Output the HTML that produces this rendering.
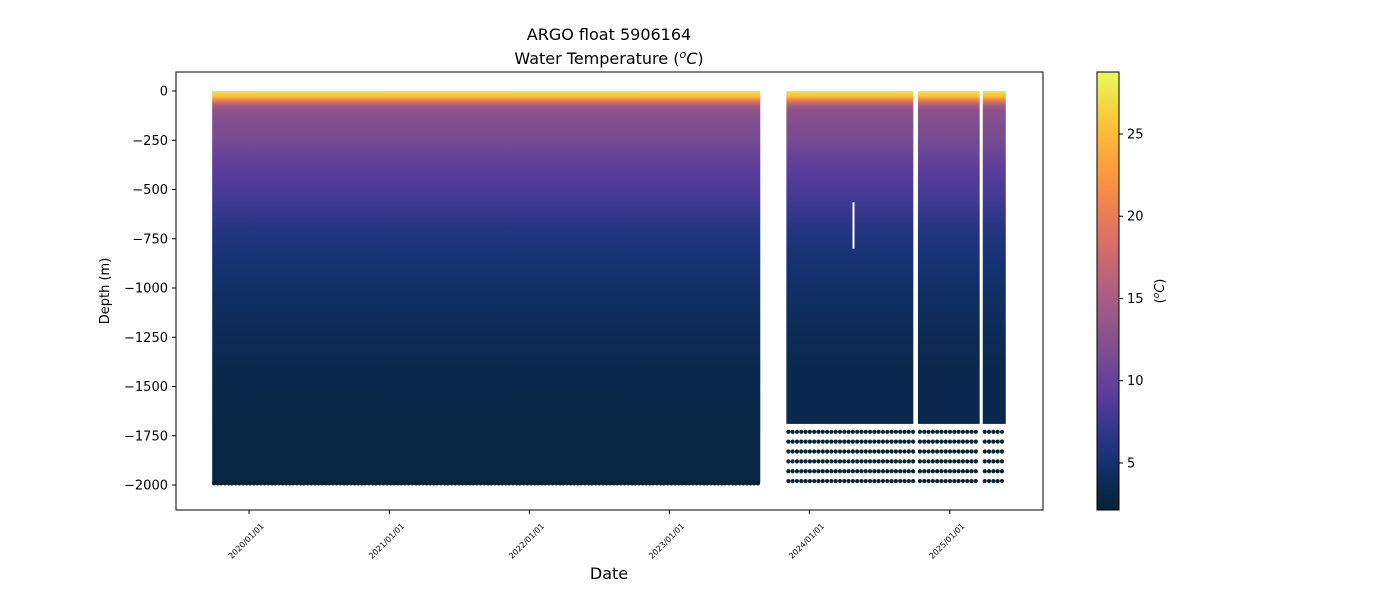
<!DOCTYPE html>
<html><head><meta charset="utf-8"><style>
body{margin:0;background:#fff;}
svg text{font-family:"DejaVu Sans","Liberation Sans",sans-serif;}
</style></head><body>
<svg id="chart" width="1400" height="600" xmlns="http://www.w3.org/2000/svg">
<defs id="defs"></defs>
<text x="609" y="40" font-size="16" text-anchor="middle">ARGO float 5906164</text>
<text x="609" y="64" font-size="16" text-anchor="middle">Water Temperature (<tspan font-style="italic" font-size="11" dy="-6">o</tspan><tspan font-style="italic" dy="6">C</tspan>)</text>
<g id="plot"></g>
<text transform="translate(109,291) rotate(-90)" font-size="13" text-anchor="middle">Depth (m)</text>
<text x="609" y="579" font-size="16" text-anchor="middle">Date</text>
<g id="cbar"></g>
<text transform="translate(1164,291) rotate(-90)" font-size="13" text-anchor="middle">(<tspan font-style="italic" font-size="9" dy="-5">o</tspan><tspan font-style="italic" dy="5">C</tspan>)</text>
</svg>
<script>
const NS="http://www.w3.org/2000/svg";
// data
const yTicks=[0,-250,-500,-750,-1000,-1250,-1500,-1750,-2000];
const xTickLabels=["2020/01/01","2021/01/01","2022/01/01","2023/01/01","2024/01/01","2025/01/01"];
const segStart=["2019-09-27","2023-11-02","2024-10-10","2025-03-28"];
const segEnd=["2023-08-26","2024-09-28","2025-03-20","2025-05-27"];
const segBottom=[-1985,-1690,-1690,-1690];
const profileDepth=[0,-25,-45,-70,-100,-250,-400,-550,-700,-900,-1100,-1400,-1700,-2000];
const profileTemp=[27.5,25.5,21,15,12.8,11.3,9.2,7.8,6.2,5.0,4.2,3.4,2.9,2.5];
const dotDepths=[-1730,-1780,-1830,-1880,-1930,-1980];
const cbTicks=[5,10,15,20,25];
const cMin=2.14,cMax=28.77;
// scales
const X0=176,X1=1043,Y0=72,Y1=510;
const t2020=Date.UTC(2020,0,1);
function xs(d){const t=(typeof d==="string")?Date.parse(d+"T00:00:00Z"):d;return 249+(t-t2020)/86400000*0.38356;}
function ys(v){return 91-v*0.197;}
const thermal=[[4,35,51],[23,51,122],[85,59,157],[129,79,143],[175,95,130],[222,112,100],[249,147,65],[251,192,55],[232,250,91]];
function col(t){let f=(t-cMin)/(cMax-cMin);f=Math.max(0,Math.min(1,f))*(thermal.length-1);const i=Math.min(thermal.length-2,Math.floor(f)),r=f-i;const a=thermal[i],b=thermal[i+1];return "rgb("+a.map((v,k)=>Math.round(v+(b[k]-v)*r)).join(",")+")";}
function el(tag,attrs,parent){const e=document.createElementNS(NS,tag);for(const k in attrs)e.setAttribute(k,attrs[k]);parent.appendChild(e);return e;}
const defs=document.getElementById("defs"),plot=document.getElementById("plot"),cbar=document.getElementById("cbar");
el("rect",{x:X0,y:Y0,width:X1-X0,height:Y1-Y0,fill:"#fff"},plot);
segStart.forEach((s,i)=>{
  const top=ys(0),bot=ys(segBottom[i]);
  const g=el("linearGradient",{id:"g"+i,x1:0,y1:0,x2:0,y2:1},defs);
  profileDepth.forEach((d,j)=>{if(d>=segBottom[i]){el("stop",{offset:((ys(d)-top)/(bot-top)).toFixed(4),"stop-color":col(profileTemp[j])},g);}});
  const r=el("rect",{x:xs(s),y:top,width:xs(segEnd[i])-xs(s),height:bot-top,fill:"url(#g"+i+")"},plot);
  
  
  const x0=xs(s),x1=xs(segEnd[i]);
  if(i===0){
    for(let x=x0+2;x<x1;x+=3.6){const c=el("circle",{cx:x,cy:bot+1,r:2.4,fill:"#042333"},plot);
      
      }
  } else {
    dotDepths.forEach(d=>{for(let x=x0+2;x<x1;x+=4.3){const c=el("circle",{cx:x,cy:ys(d),r:2.1,fill:"#042333"},plot);
      
      }});
  }
});
el("line",{x1:853.5,x2:853.5,y1:ys(-565),y2:ys(-800),stroke:"#fff","stroke-width":2},plot);
el("rect",{x:X0,y:Y0,width:X1-X0,height:Y1-Y0,fill:"none",stroke:"#000","stroke-width":1},plot);
yTicks.forEach(v=>{const y=ys(v);el("line",{x1:X0-4,x2:X0,y1:y,y2:y,stroke:"#000"},plot);
  const t=el("text",{x:X0-8,y:y+4.5,"font-size":13,"text-anchor":"end"},plot);t.textContent=v<0?"\u2212"+(-v):String(v);
  });
xTickLabels.forEach(l=>{const d=l.replace(/\//g,"-");const x=xs(d);el("line",{x1:x,x2:x,y1:Y1,y2:Y1+4,stroke:"#000"},plot);
  const t=el("text",{transform:"translate("+(x-1)+","+(Y1+33)+") rotate(-45)","font-size":8,"text-anchor":"middle"},plot);t.textContent=l;
  });
const cg=el("linearGradient",{id:"cbg",x1:0,y1:1,x2:0,y2:0},defs);
for(let k=0;k<=20;k++){el("stop",{offset:k/20,"stop-color":col(cMin+(cMax-cMin)*k/20)},cg);}
el("rect",{x:1097,y:Y0,width:22,height:Y1-Y0,fill:"url(#cbg)",stroke:"#000","stroke-width":1},cbar);
function cy(t){return Y1-(t-cMin)/(cMax-cMin)*(Y1-Y0);}
cbTicks.forEach(v=>{const y=cy(v);el("line",{x1:1119,x2:1123,y1:y,y2:y,stroke:"#000"},cbar);
  const t=el("text",{x:1127,y:y+4.5,"font-size":13},cbar);t.textContent=v;
  });
</script>
</body></html>
